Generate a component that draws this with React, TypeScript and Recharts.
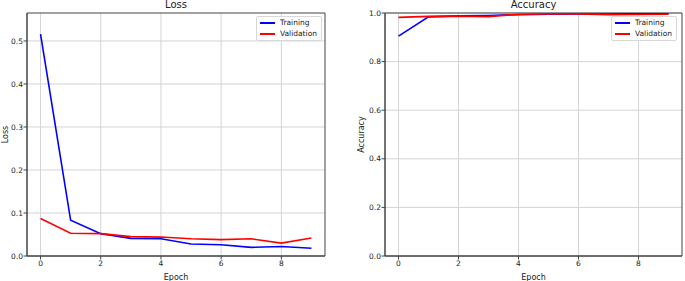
import { LineChart, Line, XAxis, YAxis, CartesianGrid, ReferenceArea, Label } from 'recharts';

const epochs = [0, 1, 2, 3, 4, 5, 6, 7, 8, 9];
const trainLoss = [0.516, 0.083, 0.052, 0.041, 0.04, 0.028, 0.026, 0.02, 0.022, 0.018];
const valLoss = [0.087, 0.053, 0.052, 0.045, 0.044, 0.04, 0.038, 0.04, 0.03, 0.042];
const trainAcc = [0.905, 0.984, 0.988, 0.99, 0.993, 0.995, 0.996, 0.996, 0.997, 0.997];
const valAcc = [0.982, 0.986, 0.987, 0.985, 0.995, 0.996, 0.996, 0.993, 0.994, 0.995];
const xTicks = [0, 2, 4, 6, 8];
const lossTicks = [0, 0.1, 0.2, 0.3, 0.4, 0.5];
const accTicks = [0, 0.2, 0.4, 0.6, 0.8, 1.0];
const seriesNames = ['Training', 'Validation'];
const seriesColors = ['#0000ff', '#ff0000'];

const FONT = 'DejaVu Sans, sans-serif';
const X_DOMAIN: [number, number] = [-0.45, 9.45];

const lossData = epochs.map((e, i) => ({ epoch: e, train: trainLoss[i], val: valLoss[i] }));
const accData = epochs.map((e, i) => ({ epoch: e, train: trainAcc[i], val: valAcc[i] }));

function LegendBox({ right, top }: { right: number; top: number }) {
  return (
    <div style={{
      position: 'absolute', right, top,
      background: 'rgba(255,255,255,0.85)', border: '1px solid #d8d8d8', borderRadius: 2,
      padding: '1px 4px 1px 3px', fontFamily: FONT, fontSize: 7.5, color: '#222', lineHeight: '10px',
    }}>
      {seriesNames.map((name, i) => (
        <div key={name} style={{ display: 'flex', alignItems: 'center', height: 10.5 }}>
          <span style={{ display: 'inline-block', width: 15, height: 1.6, background: seriesColors[i], marginRight: 5 }} />
          {name}
        </div>
      ))}
    </div>
  );
}

function YLabel({ text, x }: { text: string; x: number }) {
  return (props: any) => {
    const vb = props.viewBox;
    const cy = vb.y + vb.height / 2;
    return (
      <text x={x} y={cy} transform={`rotate(-90 ${x} ${cy})`} textAnchor="middle"
        dominantBaseline="central" fontFamily={FONT} fontSize={8} fill="#222">{text}</text>
    );
  };
}

function Panel(props: {
  title: string; yLabel: string; data: any[]; yDomain: [number, number]; yTicks: number[];
  width: number; yWidth: number; right: number; yLabelX: number; legendRight: number;
}) {
  const { title, yLabel, data, yDomain, yTicks, width, yWidth, right, yLabelX, legendRight } = props;
  const plotLeft = yWidth;
  const plotRight = width - right;
  return (
    <div style={{ position: 'relative', width, height: 281 }}>
      <div style={{
        position: 'absolute', top: -1, left: plotLeft, width: plotRight - plotLeft, textAlign: 'center',
        fontFamily: FONT, fontSize: 10, color: '#222', lineHeight: '12px',
      }}>{title}</div>
      <LineChart width={width} height={281} data={data} margin={{ top: 13, right, bottom: 0, left: 0 }}>
        <CartesianGrid stroke="#d4d4d4" strokeWidth={1} horizontalValues={yTicks} verticalValues={xTicks} />
        <XAxis dataKey="epoch" type="number" domain={X_DOMAIN} ticks={xTicks} allowDataOverflow
          height={25} tickSize={3.5} tickMargin={1} stroke="#444"
          tick={{ fontFamily: FONT, fontSize: 7.5, fill: '#222' }}>
          <Label value="Epoch" position="insideBottom" offset={1}
            style={{ fontFamily: FONT, fontSize: 8, fill: '#222' }} />
        </XAxis>
        <YAxis type="number" domain={yDomain} ticks={yTicks} allowDataOverflow width={yWidth}
          tickSize={3.5} tickMargin={0.5} stroke="#444" tickFormatter={(v: number) => v.toFixed(1)}
          tick={{ fontFamily: FONT, fontSize: 7.5, fill: '#222' }}>
          <Label content={YLabel({ text: yLabel, x: yLabelX })} />
        </YAxis>
        <ReferenceArea x1={X_DOMAIN[0]} x2={X_DOMAIN[1]} y1={yDomain[0]} y2={yDomain[1]}
          fill="none" stroke="#444" strokeWidth={1} ifOverflow="visible" />
        <Line dataKey="train" stroke={seriesColors[0]} strokeWidth={1.6} dot={false} isAnimationActive={false} />
        <Line dataKey="val" stroke={seriesColors[1]} strokeWidth={1.6} dot={false} isAnimationActive={false} />
      </LineChart>
      <LegendBox right={legendRight} top={16} />
    </div>
  );
}

export default function App() {
  return (
    <div style={{ position: 'absolute', left: 0, top: 0, width: 685, height: 281, background: '#fff', display: 'flex' }}>
      <Panel title="Loss" yLabel="Loss" data={lossData} yDomain={[0, 0.565]} yTicks={lossTicks}
        width={340} yWidth={27} right={15} yLabelX={5} legendRight={18} />
      <Panel title="Accuracy" yLabel="Accuracy" data={accData} yDomain={[0, 1]} yTicks={accTicks}
        width={345} yWidth={45} right={3} yLabelX={21} legendRight={8} />
    </div>
  );
}
